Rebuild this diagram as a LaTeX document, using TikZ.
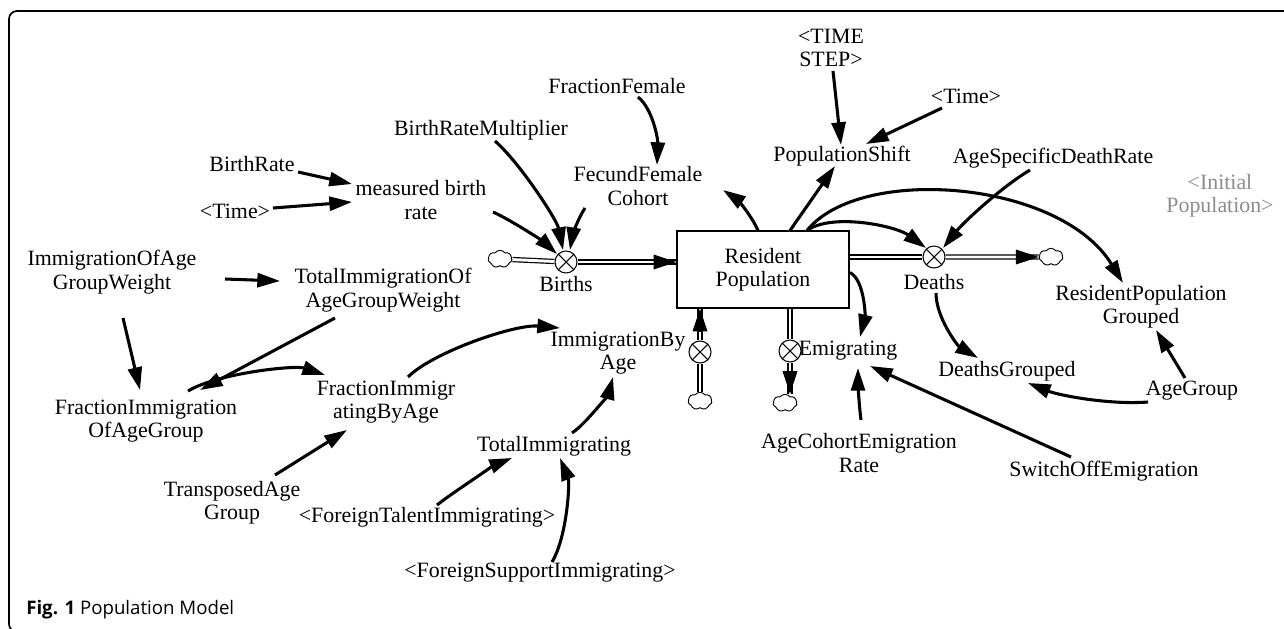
\documentclass[tikz,border=0pt]{standalone}
\usepackage{fontspec}
\setmainfont{Liberation Serif}
\newfontfamily\capfont{Open Sans}
\usetikzlibrary{arrows.meta,shapes.symbols}
\begin{document}
\begin{tikzpicture}[x=0.75pt,y=-0.75pt,
  var/.style={font=\fontsize{16.4}{17.6}\selectfont, align=center, inner sep=0pt},
  inf/.style={draw, line width=2.3pt, -{Triangle[length=17pt,width=10.5pt]}},
  pipe/.style={draw, double=white, line width=0.9pt, double distance=2.2pt},
  pipetip/.style={draw, line width=0.9pt, -{Triangle[length=17pt,width=11pt]}},
  valve/.style={circle, draw, line width=0.8pt, minimum size=16.5pt, inner sep=0pt, fill=white,
    path picture={\draw[line width=0.8pt] (path picture bounding box.north west) -- (path picture bounding box.south east) (path picture bounding box.north east) -- (path picture bounding box.south west);}},
  cloudn/.style={cloud, cloud puffs=7, cloud puff arc=110, cloud ignores aspect, draw, line width=0.7pt, minimum width=18pt, minimum height=13pt, inner sep=0pt, fill=white},
]
\useasboundingbox (0,0) rectangle (1284,628);
\clip (0,0) rectangle (1284,628);
\draw[line width=1.3pt, rounded corners=6pt] (9,11) rectangle (1310,632);

\node[var] (br) at (252,164) {BirthRate};
\node[var] (timeL) at (235,211) {<Time>};
\node[var] (mbr) at (421,200) {measured birth\\rate};
\node[var] (brm) at (481,130) {BirthRateMultiplier};
\node[var] (ff) at (617,86) {FractionFemale};
\node[var] (ffc) at (638,186) {FecundFemale\\Cohort};
\node[var] (ts) at (831,48) {<TIME\\STEP>};
\node[var] (ps) at (842,156) {PopulationShift};
\node[var] (timeR) at (966,96) {<Time>};
\node[var] (asdr) at (1053,158) {AgeSpecificDeathRate};
\node[var, text=black!45] (ip) at (1220,196) {<Initial\\Population>};
\node[var, draw, line width=1pt, minimum width=129pt, minimum height=57.75pt] (rp) at (763,269.5) {Resident\\Population};
\node[valve] (births) at (566,262) {};
\node[var] (birthsl) at (566,284) {Births};
\node[cloudn] (c1) at (500,259) {};
\node[valve] (deaths) at (934,257) {};
\node[var] (deathsl) at (934,282) {Deaths};
\node[cloudn] (c2) at (1051,257) {};
\node[valve] (iba) at (700,352) {};
\node[var] (ibal) at (618,353) {ImmigrationBy\\Age};
\node[cloudn] (c3) at (700,401) {};
\node[valve] (emig) at (790,351) {};
\node[var] (emigl) at (848,351) {Emigrating};
\node[cloudn] (c4) at (785,403) {};
\node[var] (rpg) at (1141,307) {ResidentPopulation\\Grouped};
\node[var] (dg) at (1007,371) {DeathsGrouped};
\node[var] (ag) at (1192,391) {AgeGroup};
\node[var] (soe) at (1104,471) {SwitchOffEmigration};
\node[var] (acer) at (859,453) {AgeCohortEmigration\\Rate};
\node[var] (ioagw) at (112,272) {ImmigrationOfAge\\GroupWeight};
\node[var] (tioagw) at (383,290) {TotalImmigrationOf\\AgeGroupWeight};
\node[var] (fioag) at (146,421) {FractionImmigration\\OfAgeGroup};
\node[var] (fiba) at (386,402) {FractionImmigr\\atingByAge};
\node[var] (tag) at (232,503) {TransposedAge\\Group};
\node[var] (ti) at (554,446) {TotalImmigrating};
\node[var] (fti) at (427,517) {<ForeignTalentImmigrating>};
\node[var] (fsi) at (540,573) {<ForeignSupportImmigrating>};
\node[anchor=west, font=\capfont\fontsize{14}{16}\selectfont, inner sep=0pt] (cap) at (26,610) {\textbf{Fig. 1} Population Model};

% pipes
\draw[pipe] (c1) -- (births);
\coordinate (rpin) at (births -| rp.west);
\draw[pipe] (births) -- (rpin);
\draw[pipetip] ([xshift=-17pt]rpin) -- (rpin);
\draw[pipe] (rp.east |- deaths) -- (deaths);
\draw[pipe] (deaths) -- (c2);
\draw[pipetip] ([xshift=-17pt]c2.west) -- (c2.west);
\draw[pipe] (c3) -- (iba);
\coordinate (rpbot) at (iba |- rp.south);
\draw[pipe] (iba) -- (rpbot);
\draw[pipetip] ([yshift=-17pt]rpbot) -- (rpbot);
\draw[pipe] (emig |- rp.south) -- (emig);
\coordinate (c4top) at (emig |- c4.north);
\draw[pipe] (emig) -- (c4top);
\draw[pipetip] ([yshift=17pt]c4top) -- (c4top);

% influences
\draw[inf] ([shift={(46,8)}]br.center) -- ([shift={(-69,-16)}]mbr.center);
\draw[inf] ([shift={(38,-3)}]timeL.center) -- ([shift={(-69,2)}]mbr.center);
\draw[inf] ([shift={(72,12)}]mbr.center) .. controls +(20,9) and +(-12,-11) .. ([shift={(-9,-8)}]births.center);
\draw[inf] ([shift={(14,11)}]brm.center) .. controls +(25,22) and +(-6,-30) .. ([shift={(-3,-12)}]births.center);
\draw[inf] ([shift={(-53,22)}]ffc.center) .. controls +(-8,12) and +(2,-12) .. ([shift={(4,-12)}]births.center);
\draw[inf] ([shift={(21,11)}]ff.center) .. controls +(15,12) and +(1,-25) .. ([shift={(19,-21)}]ffc.center);
\draw[inf] ([shift={(-5,-39)}]rp.center) .. controls +(-8,-18) and +(12,8) .. ([shift={(85,4)}]ffc.center);
\draw[inf] ([shift={(27,-39)}]rp.center) -- ([shift={(-7,10)}]ps.center);
\draw[inf] ([shift={(2,23)}]ts.center) -- ([shift={(-1,-11)}]ps.center);
\draw[inf] ([shift={(-24,12)}]timeR.center) -- ([shift={(24,-12)}]ps.center);
\draw[inf] ([shift={(44,-39)}]rp.center) .. controls +(25,-18) and +(-30,-22) .. ([shift={(-8,-9)}]deaths.center);
\draw[inf] ([shift={(44,-39)}]rp.center) .. controls +(53,-66) and +(-63,-103) .. ([shift={(-18,-24)}]rpg.center);
\draw[inf] ([shift={(-23,12)}]asdr.center) .. controls +(-30,18) and +(20,-25) .. ([shift={(9,-9)}]deaths.center);
\draw[inf] ([shift={(2,36)}]deaths.center) .. controls +(0,25) and +(-20,-12) .. ([shift={(-29,-13)}]dg.center);
\draw[inf] ([shift={(-44,11)}]ag.center) .. controls +(-40,3) and +(30,12) .. ([shift={(21,12)}]dg.center);
\draw[inf] ([shift={(-7,-13)}]ag.center) -- ([shift={(15,23)}]rpg.center);
\draw[inf] ([shift={(87,3)}]rp.center) .. controls +(15,8) and +(5,-20) .. ([shift={(12,-14)}]emigl.center);
\draw[inf] ([shift={(2,-33)}]acer.center) .. controls +(-2,-15) and +(0,15) .. ([shift={(10,17)}]emigl.center);
\draw[inf] ([shift={(-33,-14)}]soe.center) -- ([shift={(22,15)}]emigl.center);
\draw[inf] ([shift={(113,7)}]ioagw.center) -- ([shift={(-103,-9)}]tioagw.center);
\draw[inf] ([shift={(11,46)}]ioagw.center) -- ([shift={(-6,-31)}]fioag.center);
\draw[inf] ([shift={(-48,28)}]tioagw.center) -- ([shift={(54,-31)}]fioag.center);
\draw[inf] ([shift={(42,-30)}]fioag.center) .. controls +(30,-18) and +(-30,-10) .. ([shift={(-61,-27)}]fiba.center);
\draw[inf] ([shift={(43,-28)}]tag.center) -- ([shift={(-39,28)}]fiba.center);
\draw[inf] ([shift={(22,-25)}]fiba.center) .. controls +(25,-25) and +(-45,-4) .. ([shift={(-58,-25)}]ibal.center);
\draw[inf] ([shift={(18,-13)}]ti.center) .. controls +(15,-10) and +(-4,15) .. ([shift={(-5,24)}]ibal.center);
\draw[inf] ([shift={(10,-12)}]fti.center) .. controls +(15,-12) and +(-15,6) .. ([shift={(-42,12)}]ti.center);
\draw[inf] ([shift={(12,-11)}]fsi.center) .. controls +(15,-25) and +(10,25) .. ([shift={(6,12)}]ti.center);
\end{tikzpicture}
\end{document}
